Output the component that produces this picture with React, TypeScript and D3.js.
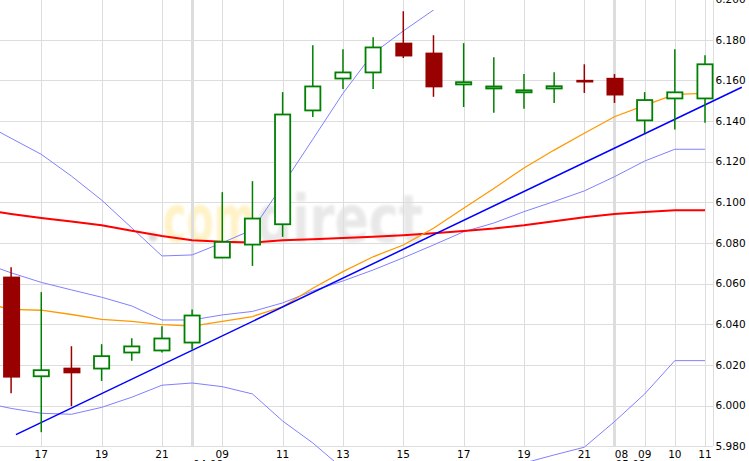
import React from 'react';
import * as d3 from 'd3';

const W = 749;
const H = 461;

// Candles (index 0..23)
const candleOpen = [6.0632, 6.0144, 6.0184, 6.0182, 6.0261, 6.0271, 6.0310, 6.0728, 6.0792, 6.0892, 6.1452, 6.1609, 6.1639, 6.1783, 6.1734, 6.1580, 6.1560, 6.1541, 6.1560, 6.1600, 6.1610, 6.1403, 6.1511, 6.1511];
const candleHigh = [6.0681, 6.0558, 6.0292, 6.0302, 6.0331, 6.0390, 6.0473, 6.1050, 6.1104, 6.1542, 6.1773, 6.1753, 6.1812, 6.1940, 6.1822, 6.1783, 6.1714, 6.1631, 6.1640, 6.1679, 6.1631, 6.1542, 6.1753, 6.1724];
const candleLow = [6.0061, 5.9869, 5.9997, 6.0121, 6.0220, 6.0261, 6.0276, 6.0725, 6.0687, 6.0830, 6.1420, 6.1558, 6.1558, 6.1710, 6.1519, 6.1469, 6.1440, 6.1460, 6.1489, 6.1538, 6.1489, 6.1341, 6.1358, 6.1391];
const candleClose = [6.0140, 6.0174, 6.0161, 6.0243, 6.0291, 6.0330, 6.0443, 6.0805, 6.0920, 6.1432, 6.1570, 6.1639, 6.1762, 6.1720, 6.1568, 6.1591, 6.1570, 6.1551, 6.1571, 6.1592, 6.1528, 6.1503, 6.1541, 6.1679];

// Indicator series (index -1..23, first value lies just before the window)
const maLong = [6.0964, 6.0943, 6.0923, 6.0905, 6.0887, 6.0860, 6.0834, 6.0813, 6.0806, 6.0802, 6.0813, 6.0818, 6.0824, 6.0831, 6.0838, 6.0848, 6.0859, 6.0871, 6.0887, 6.0907, 6.0926, 6.0942, 6.0952, 6.0961, 6.0961];
const maShort = [6.0509, 6.0473, 6.0469, 6.0448, 6.0424, 6.0414, 6.0398, 6.0391, 6.0414, 6.0438, 6.0486, 6.0577, 6.0659, 6.0732, 6.0790, 6.0872, 6.0971, 6.1068, 6.1169, 6.1257, 6.1340, 6.1421, 6.1477, 6.1531, 6.1536];
const bandMid = [6.0706, 6.0653, 6.0606, 6.0569, 6.0533, 6.0490, 6.0421, 6.0421, 6.0446, 6.0463, 6.0505, 6.0564, 6.0613, 6.0667, 6.0727, 6.0790, 6.0855, 6.0898, 6.0954, 6.1004, 6.1056, 6.1126, 6.1203, 6.1261, 6.1261];
const bandUpper = [6.1395, 6.1315, 6.1236, 6.1129, 6.1011, 6.0874, 6.0736, 6.0741, 6.0801, 6.0865, 6.1085, 6.1310, 6.1536, 6.1733, 6.1843, 6.1946, 6.2052, 6.2123, 6.2190, 6.2251, 6.2317, 6.2331, 6.2350, 6.2300, 6.2300];
const bandLower = [6.0017, 5.9986, 5.9962, 5.9957, 5.9991, 6.0041, 6.0100, 6.0111, 6.0093, 6.0057, 5.9924, 5.9816, 5.9689, 5.9601, 5.9612, 5.9634, 5.9658, 5.9673, 5.9717, 5.9757, 5.9795, 5.9921, 6.0057, 6.0221, 6.0221];

// Trend line end points (index, value)
const trendIdx = [0.16, 24.22];
const trendVal = [5.9857, 6.1566];

const yTicks = [5.98, 6.0, 6.02, 6.04, 6.06, 6.08, 6.1, 6.12, 6.14, 6.16, 6.18, 6.2];
const xTickIdx = [1, 3, 5, 7, 9, 11, 13, 15, 17, 19, 20, 21, 22, 23];
const xTickLabels = ['17', '19', '21', '09', '11', '13', '15', '17', '19', '21', '08', '09', '10', '11'];
const gridIdx = [1, 3, 5, 7, 9, 11, 13, 15, 17, 19, 21, 22, 23];
const dayBreakIdx = [6, 20];
const dateLabels = ['04.08.', '05.08.'];

const FONT = 'DejaVu Sans, Verdana, sans-serif';
const GRID = '#dddddd';

export default function App() {
  const x = d3.scaleLinear().domain([0, 23]).range([11.1, 705]);
  const y = d3.scaleLinear().domain([5.98, 6.18]).range([446.2, 39.7]);
  const plotRight = 713;
  const plotBottom = y(5.98);

  const seriesLine = d3
    .line<number>()
    .x((_, i) => x(i - 1))
    .y((d) => y(d));

  const trendLine = d3
    .line<number>()
    .x((_, i) => x(trendIdx[i]))
    .y((d) => y(d));

  const bodyW = 17;

  return (
    <svg
      width={W}
      height={H}
      style={{ position: 'fixed', left: 0, top: 0, background: '#fff', display: 'block' }}
      fontFamily={FONT}
    >
      <defs>
        <clipPath id="plotClip">
          <rect x={0} y={10} width={W} height={H} />
        </clipPath>
        <filter id="wmBlur" x="-10%" y="-30%" width="120%" height="160%">
          <feGaussianBlur stdDeviation={1.6} />
        </filter>
      </defs>
      <rect x={0} y={0} width={W} height={H} fill="#fff" />

      {/* watermark */}
      <g filter="url(#wmBlur)">
        <circle cx={153} cy={237} r={4.5} fill="#dadada" />
        <text x={163} y={242} fontFamily={FONT} fontWeight="bold" fontSize={66} fill="#fff2c6" textLength={92} lengthAdjust="spacingAndGlyphs">com</text>
        <text x={256} y={242} fontFamily={FONT} fontWeight="bold" fontSize={66} fill="#e8e8e8" textLength={167} lengthAdjust="spacingAndGlyphs">direct</text>
      </g>

      {/* grid */}
      <g shapeRendering="crispEdges">
        {yTicks.map((t) => (
          <line key={'h' + t} x1={0} x2={plotRight} y1={Math.round(y(t)) + 0.5} y2={Math.round(y(t)) + 0.5} stroke={GRID} strokeWidth={1} />
        ))}
        {gridIdx.map((i) => (
          <line key={'v' + i} x1={Math.round(x(i)) + 0.5} x2={Math.round(x(i)) + 0.5} y1={0} y2={plotBottom} stroke={GRID} strokeWidth={1} />
        ))}
        <line x1={plotRight + 0.5} x2={plotRight + 0.5} y1={0} y2={plotBottom} stroke={GRID} strokeWidth={1} />
        {dayBreakIdx.map((i) => (
          <rect key={'d' + i} x={x(i) - 1.4} y={0} width={3} height={plotBottom} fill={GRID} />
        ))}
      </g>

      {/* y labels */}
      {yTicks.map((t) => (
        <text key={'yl' + t} x={715.5} y={y(t) + 3.8} fontSize={10.5} fill="#000">
          {t.toFixed(3)}
        </text>
      ))}

      {/* x labels */}
      {xTickIdx.map((i, k) => (
        <text key={'xl' + k} x={x(i) + (xTickLabels[k] === '08' ? 7 : 0)} y={457.5} fontSize={10.5} textAnchor="middle" fill="#000">
          {xTickLabels[k]}
        </text>
      ))}
      {dayBreakIdx.map((i, k) => (
        <text key={'dl' + k} x={x(i) + 1} y={467.8} fontSize={10.5} fill="#000">
          {dateLabels[k]}
        </text>
      ))}

      <g clipPath="url(#plotClip)">
        {/* indicator lines */}
        <path d={seriesLine(bandUpper) || ''} fill="none" stroke="#8080ff" strokeWidth={1} />
        <path d={seriesLine(bandMid) || ''} fill="none" stroke="#8080ff" strokeWidth={1} />
        <path d={seriesLine(bandLower) || ''} fill="none" stroke="#8080ff" strokeWidth={1} />
        <path d={seriesLine(maLong) || ''} fill="none" stroke="#ff0000" strokeWidth={2} />
        <path d={seriesLine(maShort) || ''} fill="none" stroke="#ff9900" strokeWidth={1.3} />
        <path d={trendLine(trendVal) || ''} fill="none" stroke="#0000ff" strokeWidth={1.5} />

        {/* candles */}
        {candleOpen.map((o, i) => {
          const c = candleClose[i];
          const up = c >= o;
          const cx = x(i);
          const top = y(Math.max(o, c));
          const bot = y(Math.min(o, c));
          const color = up ? '#008000' : '#990000';
          return (
            <g key={'c' + i}>
              <line x1={cx} x2={cx} y1={y(candleHigh[i])} y2={top} stroke={color} strokeWidth={1.5} />
              <line x1={cx} x2={cx} y1={bot} y2={y(candleLow[i])} stroke={color} strokeWidth={1.5} />
              {up ? (
                <rect x={cx - bodyW / 2 + 0.9} y={top} width={bodyW - 1.8} height={Math.max(bot - top, 1)} fill="#fff" stroke={color} strokeWidth={1.8} />
              ) : (
                <rect x={cx - bodyW / 2 + 0.5} y={top - 0.5} width={bodyW} height={Math.max(bot - top, 1) + 1} fill={color} />
              )}
            </g>
          );
        })}
      </g>
    </svg>
  );
}
